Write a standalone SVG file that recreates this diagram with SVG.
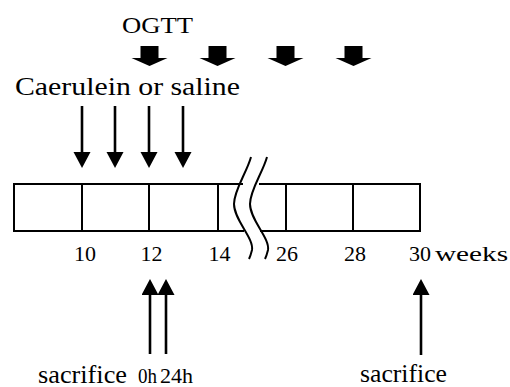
<svg xmlns="http://www.w3.org/2000/svg" xmlns:xlink="http://www.w3.org/1999/xlink" width="510" height="387" viewBox="0 0 510 387">
  <style>
    .txt { font-family: "Liberation Serif", "Times New Roman", serif; fill: #000; }
    .box { fill: none; stroke: #000; stroke-width: 2; }
    .wave { fill: none; stroke: #000; stroke-width: 2; }
    .shaft { fill: none; stroke: #000; stroke-width: 2.6; }
    .block { fill: #000; }
  </style>
  <defs>
    <marker id="head" markerUnits="userSpaceOnUse" markerWidth="17" markerHeight="18" viewBox="0 0 17 18" refX="1" refY="8.5" orient="auto">
      <path d="M0,0 L16,8.5 L0,17 z" fill="#000"/>
    </marker>
    <!-- thick block arrow centred on x=0 -->
    <path id="block" class="block" d="M-9,46 L9,46 L9,58 L18,58 L0,66 L-18,58 L-9,58 z"/>
  </defs>

  <rect width="510" height="387" fill="#fff"/>

  <!-- timeline bar, interrupted by the axis break -->
  <g id="timeline">
    <path class="box" d="M243,184 L14,184 L14,231 L244,231"/>
    <path class="box" d="M259,184 L420,184 L420,231 L260,231"/>
    <path class="box" d="M82,184 V231 M149,184 V231 M218,184 V231 M286,184 V231 M353,184 V231"/>
  </g>

  <g id="axis-break">
    <path class="wave" d="M251,157 C247,172 234,190 234,204 C234,220 254,238 252,250 C251,254 250,257 249,259"/>
    <path class="wave" d="M267,157 C263,172 250,190 250,204 C250,220 270,238 268,250 C267,254 266,257 265,259"/>
  </g>

  <!-- week labels -->
  <g id="week-labels" class="txt" font-size="22" text-anchor="middle">
    <text x="85" y="261">10</text>
    <text x="151.5" y="261">12</text>
    <text x="219.5" y="261">14</text>
    <text x="287" y="261">26</text>
    <text x="355" y="261">28</text>
    <text x="420" y="261">30</text>
    <text x="435" y="261" text-anchor="start" textLength="73" lengthAdjust="spacingAndGlyphs">weeks</text>
  </g>

  <g id="ogtt-label">
    <text class="txt" x="122" y="33" font-size="23" textLength="71" lengthAdjust="spacingAndGlyphs">OGTT</text>
  </g>
  <g id="injection-label">
    <text class="txt" x="15" y="95" font-size="25" textLength="225" lengthAdjust="spacingAndGlyphs">Caerulein or saline</text>
  </g>
  <g id="early-sacrifice-label">
    <text class="txt" x="38" y="383" font-size="25" textLength="89" lengthAdjust="spacingAndGlyphs">sacrifice</text>
    <text class="txt" x="138" y="383" font-size="21" textLength="19" lengthAdjust="spacingAndGlyphs">0h</text>
    <text class="txt" x="160" y="383" font-size="21" textLength="33" lengthAdjust="spacingAndGlyphs">24h</text>
  </g>
  <g id="final-sacrifice-label">
    <text class="txt" x="360" y="382" font-size="25" textLength="87" lengthAdjust="spacingAndGlyphs">sacrifice</text>
  </g>

  <g id="connectors">
    <!-- OGTT time points -->
    <use xlink:href="#block" x="149.5"/>
    <use xlink:href="#block" x="217.5"/>
    <use xlink:href="#block" x="285.5"/>
    <use xlink:href="#block" x="353.5"/>
    <!-- injections -->
    <line class="shaft" x1="82" y1="106" x2="82" y2="153" marker-end="url(#head)"/>
    <line class="shaft" x1="115" y1="106" x2="115" y2="153" marker-end="url(#head)"/>
    <line class="shaft" x1="149" y1="106" x2="149" y2="153" marker-end="url(#head)"/>
    <line class="shaft" x1="183" y1="106" x2="183" y2="153" marker-end="url(#head)"/>
    <!-- sacrifice points -->
    <line class="shaft" x1="150" y1="354" x2="150" y2="294" marker-end="url(#head)"/>
    <line class="shaft" x1="166" y1="354" x2="166" y2="294" marker-end="url(#head)"/>
    <line class="shaft" x1="421" y1="355" x2="421" y2="294" marker-end="url(#head)"/>
  </g>
</svg>
